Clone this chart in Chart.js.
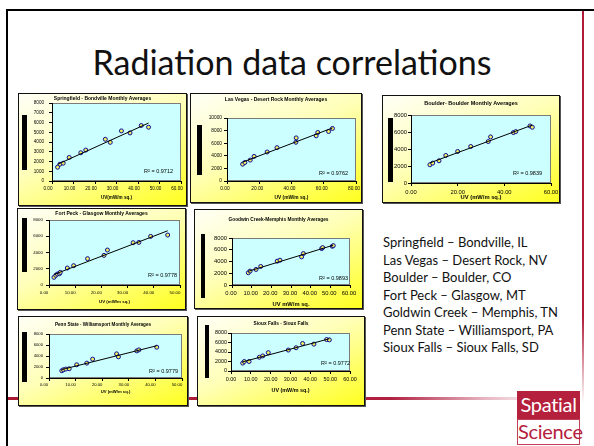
<!DOCTYPE html>
<html>
<head>
<meta charset="utf-8">
<script src="https://cdn.jsdelivr.net/npm/chart.js@4.4.1/dist/chart.umd.min.js"></script>
<style>
  body { margin: 0; width: 594px; height: 446px; position: relative; overflow: hidden; background: #fff; font-family: Lato, "Open Sans", sans-serif; }
  .line { position: absolute; }
  .box { position: absolute; box-sizing: border-box; border: 1px solid #111; box-shadow: 1px 1px 0 #555;
         background: linear-gradient(155deg, #fffff6 0%, #ffffb8 45%, #ffff20 100%); }
  .box canvas { position: absolute; left: 0; top: 0; }
  .blk { position: absolute; background: #000; }
  #title { position: absolute; left: 0; width: 584px; top: 41px; text-align: center; font-size: 34px; color: #111; }
  #sites { position: absolute; left: 383px; top: 234px; font-size: 13px; line-height: 17.5px; color: #111; white-space: nowrap; }
  #logo1, #logo2 { position: absolute; left: 517px; width: 63px; box-sizing: border-box; text-align: center;
                   font-family: Lato, sans-serif; font-size: 20px; letter-spacing: -0.3px; }
  #logo1 { top: 391px; height: 28px; line-height: 27px; background: #b5203c; color: #fff; }
  #logo2 { top: 419px; height: 26px; border: 1px solid #c04058; color: #b5203c; line-height: 23px; background: #fff; }
</style>
</head>
<body>
<div class="line" style="left:6px;top:9px;width:2px;height:437px;background:#000"></div>
<div class="line" style="left:6px;top:9px;width:588px;height:2px;background:#000"></div>
<div class="line" style="left:582px;top:11px;width:2px;height:392px;background:linear-gradient(#b01c38 0%, #b01c38 78%, rgba(176,28,56,0) 100%)"></div>
<div class="line" style="left:8px;top:397px;width:545px;height:3px;background:linear-gradient(90deg,#a8182f 0%, #b02040 70%, rgba(200,80,110,0.4) 88%, rgba(255,255,255,0) 100%)"></div>
<div id="title">Radiation data correlations</div>
<div id="sites"></div>
<div id="logo1">Spatial</div>
<div id="logo2">Science</div>
<script>
// chart titles and R² labels
const titles = [
  'Springfield - Bondville Monthly Averages',
  'Las Vegas - Desert Rock Monthly Averages',
  'Boulder- Boulder Monthly Averages',
  'Fort Peck - Glasgow Monthly Averages',
  'Goodwin Creek-Memphis Monthly Averages',
  'Penn State - Williamsport Monthly Averages',
  'Sioux Falls - Sioux Falls'
];
const axisTitles = ['UV(mW/m sq.)', 'UV (mW/m sq.)', 'UV (mW/m sq.)', 'UV (mW/m sq.)', 'UV mW/m sq.', 'UV (mW/m sq.)', 'UV (mW/m sq.)'];
const rSquared = ['R² = 0.9712', 'R² = 0.9762', 'R² = 0.9839', 'R² = 0.9778', 'R² = 0.9893', 'R² = 0.9779', 'R² = 0.9772'];

// axis ranges / tick steps
const xMax = [60, 80, 60, 50, 60, 50, 60];
const xStep = [10, 20, 20, 10, 10, 10, 10];
const yMax = [8000, 10000, 8000, 8000, 8000, 8000, 8000];
const yStep = [1000, 2000, 2000, 1000, 2000, 2000, 2000];

// monthly averages: UV (mW/m sq.) vs radiation
const springfieldUV  = [2.6, 3.7, 5.2, 8.0, 13.4, 15.7, 24.8, 27.1, 32.3, 36.3, 41.5, 44.9];
const springfieldRad = [1414, 1724, 1828, 2414, 2897, 3172, 4276, 3966, 5138, 4931, 5690, 5517];
const lasVegasUV  = [9.7, 11.1, 14.4, 16.8, 24.9, 31.0, 42.7, 42.9, 55.3, 56.3, 63.0, 65.4];
const lasVegasRad = [2674, 2941, 3316, 3904, 4599, 5294, 6150, 6845, 7166, 7701, 7861, 8342];
const boulderUV  = [8.1, 9.3, 12.0, 14.9, 20.0, 25.6, 33.1, 34.1, 43.9, 44.9, 51.0, 52.0];
const boulderRad = [2146, 2341, 2615, 3239, 3707, 4293, 4878, 5424, 5932, 6049, 6712, 6556];
const fortPeckUV  = [1.9, 2.6, 3.2, 4.0, 4.3, 7.0, 9.4, 14.7, 21.0, 22.3, 32.1, 34.3, 38.8, 45.3];
const fortPeckRad = [943, 1189, 1352, 1393, 1557, 2090, 2377, 3238, 3648, 4303, 5205, 5246, 5984, 6148];
const goodwinUV  = [8.3, 9.2, 12.2, 14.6, 23.0, 24.4, 35.4, 36.3, 45.6, 46.1, 51.0, 51.5];
const goodwinRad = [2085, 2366, 2648, 3155, 4056, 4225, 4789, 5352, 6197, 6366, 6592, 6704];
const pennUV  = [4.8, 5.4, 6.3, 7.6, 10.4, 14.2, 16.4, 25.4, 26.1, 33.0, 33.8, 40.5];
const pennRad = [1323, 1504, 1624, 1684, 2406, 2707, 3429, 4391, 3850, 4932, 5113, 5594];
const siouxUV  = [5.9, 6.7, 9.1, 14.3, 16.0, 18.8, 28.9, 32.8, 36.1, 41.8, 48.2, 49.6];
const siouxRad = [1655, 2000, 2000, 2897, 3172, 3862, 4414, 4897, 5793, 5655, 6621, 6552];

const uvSeries  = [springfieldUV, lasVegasUV, boulderUV, fortPeckUV, goodwinUV, pennUV, siouxUV];
const radSeries = [springfieldRad, lasVegasRad, boulderRad, fortPeckRad, goodwinRad, pennRad, siouxRad];

const sites = [
  'Springfield – Bondville, IL',
  'Las Vegas – Desert Rock, NV',
  'Boulder – Boulder, CO',
  'Fort Peck – Glasgow, MT',
  'Goldwin Creek – Memphis, TN',
  'Penn State – Williamsport, PA',
  'Sioux Falls – Sioux Falls, SD'
];
document.getElementById('sites').innerHTML = sites.join('<br>');

// page layout of each small chart (box, plot area, black bar, text sizes)
const layouts = [
  { box: [18, 93, 169, 113],  plot: [52, 103, 182, 181],  bar: [22, 115, 5, 55],  tick: 4.6, head: 5,   headY: 99,  axisY: 198, tPad: 2, yPad: 5, lOff: -4, r: [173, 171] },
  { box: [190, 93, 172, 110], plot: [227, 118, 358, 181], bar: [197, 125, 5, 50], tick: 4.8, head: 5,   headY: 100, axisY: 198, tPad: 2, yPad: 2, lOff: -2, r: [348, 173] },
  { box: [382, 95, 178, 108], plot: [411, 115, 551, 183], bar: [388, 118, 5, 64], tick: 5.8, head: 5.5, headY: 103, axisY: 197, tPad: 3, yPad: 1, lOff: 0,  r: [542, 173] },
  { box: [17, 208, 169, 102], plot: [49, 220, 180, 285],  bar: [22, 218, 5, 54],  tick: 4.4, head: 5,   headY: 214, axisY: 302, tPad: 2, yPad: 3, lOff: -5, r: [177, 275] },
  { box: [194, 209, 169, 100],plot: [232, 238, 350, 285], bar: [201, 234, 4, 64], tick: 5.8, head: 4.8, headY: 220, axisY: 304, tPad: 2, yPad: 2, lOff: -1, r: [348, 278] },
  { box: [18, 316, 170, 90],  plot: [49, 334, 182, 378],  bar: [22, 332, 5, 50],  tick: 4.2, head: 4.6, headY: 325, axisY: 392, tPad: 1, yPad: 3, lOff: -5, r: [178, 371] },
  { box: [197, 316, 168, 90], plot: [231, 333, 350, 371], bar: [205, 325, 4, 53], tick: 5.4, head: 4.8, headY: 324, axisY: 391, tPad: 2, yPad: 1, lOff: 0,  r: [350, 363] }
];

function trendLine(xs, ys) {
  const n = xs.length;
  const mx = xs.reduce((a, b) => a + b, 0) / n;
  const my = ys.reduce((a, b) => a + b, 0) / n;
  let sxy = 0, sxx = 0;
  xs.forEach((x, k) => { sxy += (x - mx) * (ys[k] - my); sxx += (x - mx) * (x - mx); });
  const b = sxy / sxx, a = my - b * mx;
  const x0 = Math.min(...xs), x1 = Math.max(...xs);
  return [{ x: x0, y: a + b * x0 }, { x: x1, y: a + b * x1 }];
}

const plotDecor = {
  id: 'plotDecor',
  beforeDraw(chart, args, o) {
    const { ctx, chartArea: a } = chart;
    ctx.save();
    ctx.fillStyle = '#ccffff';
    ctx.fillRect(a.left, a.top, a.width, a.height);
    ctx.strokeStyle = '#7a7a7a';
    ctx.lineWidth = 1;
    ctx.strokeRect(a.left + 0.5, a.top + 0.5, a.width - 1, a.height - 1);
    ctx.restore();
  },
  afterDraw(chart, args, o) {
    const ctx = chart.ctx;
    ctx.save();
    ctx.fillStyle = '#000';
    ctx.textBaseline = 'middle';
    ctx.textAlign = 'center';
    ctx.font = 'bold ' + o.head + 'px "Liberation Sans", Arial, sans-serif';
    ctx.fillText(o.title, chart.width / 2, o.headY);
    ctx.textAlign = 'right';
    ctx.font = '5.5px "Liberation Sans", Arial, sans-serif';
    ctx.fillText(o.r2, o.rx, o.ry);
    ctx.restore();
  }
};

layouts.forEach((L, i) => {
  const [bx, by, bw, bh] = L.box;
  const box = document.createElement('div');
  box.className = 'box';
  Object.assign(box.style, { left: bx + 'px', top: by + 'px', width: bw + 'px', height: bh + 'px' });
  const cv = document.createElement('canvas');
  const cw = bw - 2, ch = bh - 2;
  cv.width = cw; cv.height = ch;
  box.appendChild(cv);
  document.body.appendChild(box);

  const ox = bx + 1, oy = by + 1;
  const left = L.plot[0] - ox, top = L.plot[1] - oy, right = L.plot[2] - ox, bottom = L.plot[3] - oy;
  const lh = L.tick * 1.2;

  const bar = document.createElement('div');
  bar.className = 'blk';
  Object.assign(bar.style, { left: L.bar[0] + 'px', top: L.bar[1] + 'px', width: L.bar[2] + 'px', height: L.bar[3] + 'px' });
  document.body.appendChild(bar);

  const points = uvSeries[i].map((x, k) => ({ x: x, y: radSeries[i][k] }));
  const tickFont = { size: L.tick, family: '"Liberation Sans", Arial, sans-serif' };

  new Chart(cv, {
    type: 'scatter',
    data: {
      datasets: [{
        data: trendLine(uvSeries[i], radSeries[i]),
        showLine: true,
        borderColor: '#000',
        borderWidth: 1,
        pointRadius: 0
      }, {
        data: points,
        pointRadius: 2,
        pointBorderWidth: 1,
        borderColor: '#0a0a9a',
        backgroundColor: '#f0f060'
      }]
    },
    options: {
      responsive: false,
      animation: false,
      devicePixelRatio: 1,
      layout: { padding: { left: 0, top: top, right: cw - right, bottom: 0 } },
      plugins: {
        legend: { display: false },
        tooltip: { enabled: false },
        plotDecor: { title: titles[i], head: L.head, headY: L.headY - oy, r2: rSquared[i], rx: L.r[0] - ox, ry: L.r[1] - oy }
      },
      scales: {
        x: {
          type: 'linear', min: 0, max: xMax[i],
          ticks: { stepSize: xStep[i], autoSkip: false, maxRotation: 0, padding: L.tPad, labelOffset: L.lOff,
                   color: '#000', font: tickFont, callback: v => v.toFixed(2) },
          grid: { drawOnChartArea: false, drawTicks: true, tickLength: 3, color: '#000' },
          border: { color: '#000', width: 1 },
          title: { display: true, text: axisTitles[i], color: '#000',
                   font: { size: L.tick, weight: 'bold', family: '"Liberation Sans", Arial, sans-serif' },
                   padding: { top: 0, bottom: (oy + ch) - L.axisY - lh / 2 } },
          afterFit: s => { s.height = ch - bottom; s.paddingLeft = 0; s.paddingRight = 0; }
        },
        y: {
          min: 0, max: yMax[i],
          ticks: { stepSize: yStep[i], padding: L.yPad, color: '#000', font: tickFont, callback: v => String(v) },
          grid: { drawOnChartArea: false, drawTicks: true, tickLength: 3, color: '#000' },
          border: { color: '#000', width: 1 },
          afterFit: s => { s.width = left; s.paddingTop = 0; s.paddingBottom = 0; }
        }
      }
    },
    plugins: [plotDecor]
  });
});
</script>
</body>
</html>
